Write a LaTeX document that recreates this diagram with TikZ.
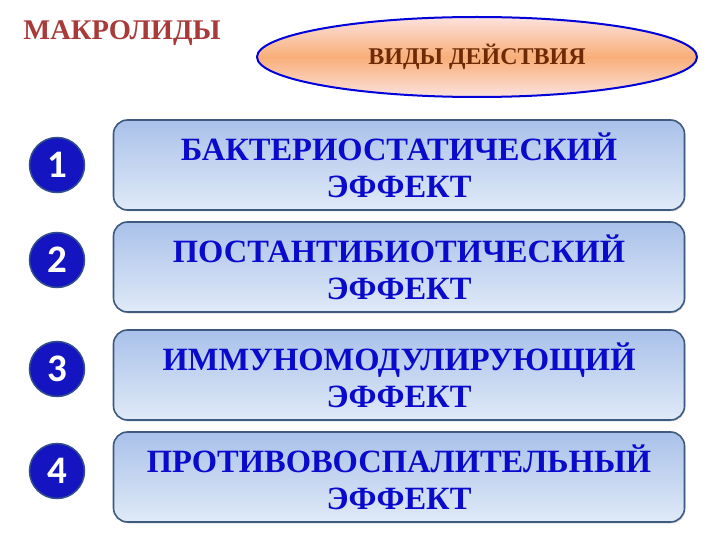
\documentclass[tikz,border=0pt]{standalone}
\usepackage{fontspec}
\setmainfont{Liberation Serif}
\newfontfamily\numfont{Carlito}
\usetikzlibrary{shapes.geometric,shadows}
\definecolor{boxtext}{HTML}{0A0ACC}
\definecolor{boxedge}{HTML}{3E5A7E}
\definecolor{boxtop}{HTML}{A9C1E9}
\definecolor{boxbottom}{HTML}{E0EAF8}
\definecolor{numfill}{HTML}{1414C0}
\definecolor{numedge}{HTML}{34508A}
\definecolor{headtext}{HTML}{6E2A04}
\definecolor{headmid}{HTML}{F9AE78}
\definecolor{headside}{HTML}{FCE2DE}
\definecolor{titlered}{HTML}{A83A3A}
\begin{document}
\begin{tikzpicture}[x=1pt,y=-1pt,
    effect/.style={draw=boxedge,line width=1.6pt,rounded corners=14pt,
      top color=boxtop,bottom color=boxbottom,minimum width=571pt,
      minimum height=90pt,align=center,text=boxtext,
      font=\bfseries\fontsize{32.5}{37}\selectfont,
      drop shadow={shadow xshift=1pt,shadow yshift=-1.5pt,opacity=0.25}},
    num/.style={circle,draw=numedge,line width=1.5pt,fill=numfill,
      minimum size=55pt,inner sep=0pt,text=white,
      font=\numfont\bfseries\fontsize{39}{39}\selectfont}]
  \useasboundingbox (0,0) rectangle (720,540);
  \node[text=titlered,font=\bfseries\fontsize{28.5}{28.5}\selectfont] (title) at (122,33) {МАКРОЛИДЫ};
  \node[ellipse,draw=blue!85!black,line width=2pt,minimum width=440pt,
    minimum height=80pt,top color=headside,bottom color=headside,
    middle color=headmid,text=headtext,
    font=\bfseries\fontsize{24}{24}\selectfont] (kinds) at (477,57) {ВИДЫ ДЕЙСТВИЯ};
  \node[effect] (e1) at (399,165) {БАКТЕРИОСТАТИЧЕСКИЙ\\ЭФФЕКТ};
  \node[effect] (e2) at (399,267) {ПОСТАНТИБИОТИЧЕСКИЙ\\ЭФФЕКТ};
  \node[effect] (e3) at (399,375) {ИММУНОМОДУЛИРУЮЩИЙ\\ЭФФЕКТ};
  \node[effect] (e4) at (399,477) {ПРОТИВОВОСПАЛИТЕЛЬНЫЙ\\ЭФФЕКТ};
  \node[num] (n1) at (57,165) {1};
  \node[num] (n2) at (57,260) {2};
  \node[num] (n3) at (57,369) {3};
  \node[num] (n4) at (57,471) {4};
\end{tikzpicture}
\end{document}
